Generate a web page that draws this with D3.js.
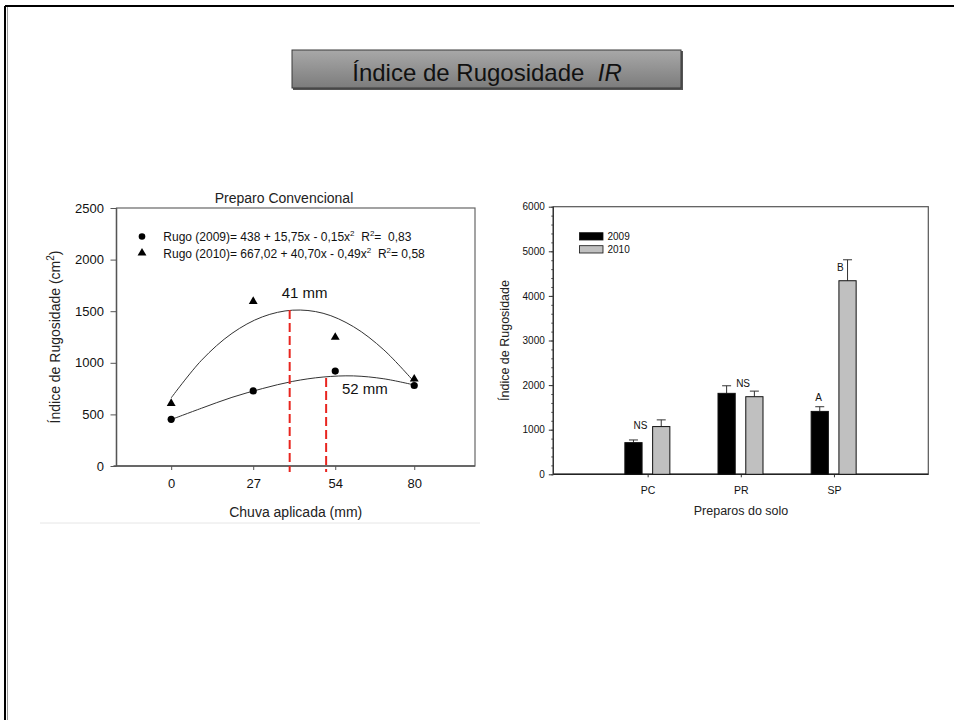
<!DOCTYPE html>
<html><head><meta charset="utf-8">
<script src="https://cdn.jsdelivr.net/npm/d3@7"></script>
<style>
body{margin:0;background:#fff}
svg{display:block;font-family:"Liberation Sans",Arial,sans-serif}
</style>
</head><body><svg id="c" width="954" height="720"></svg>
<script>
// ---------- Data: left chart (Preparo Convencional) ----------
const rainTicks = [0, 27, 54, 80];
const rain = [0, 27, 54, 80];
const rugo2009 = [452, 727, 920, 780];
const rugo2010 = [607, 1595, 1247, 843];
const curveX = [0, 10, 20, 30, 40, 50, 60, 70, 80];
const fit2009 = [450, 560, 665, 750, 820, 862, 873, 845, 785];
const fit2010 = [660, 1025, 1285, 1445, 1510, 1480, 1350, 1125, 815];
const optimaX = [39, 51];
const optimaTop = [1512, 852];
const optimaLabels = ["41 mm", "52 mm"];
const optimaLabelX = [36.4, 56.2];
const optimaLabelY = [1628, 698];
const leftYTicks = [0, 500, 1000, 1500, 2000, 2500];

// ---------- Data: right chart ----------
const preparos = ["PC", "PR", "SP"];
const years = ["2009", "2010"];
const ir2009 = [710, 1815, 1410];
const ir2010 = [1070, 1740, 4340];
const err2009 = [60, 170, 105];
const err2010 = [150, 125, 470];
const rightYTicks = [0, 1000, 2000, 3000, 4000, 5000, 6000];
const letters = ["NS", "NS", "A", "B"];
const letterCat = ["PC", "PR", "SP", "SP"];
const letterLevel = [1015, 1963, 1643, 4556];

const svg = d3.select("#c");
const FONT = '"Liberation Sans", Arial, sans-serif';

// ---------- slide frame ----------
svg.append("line").attr("x1", 5).attr("x2", 954).attr("y1", 6).attr("y2", 6).attr("stroke", "#000").attr("stroke-width", 2);
svg.append("line").attr("x1", 5).attr("x2", 5).attr("y1", 6).attr("y2", 720).attr("stroke", "#000").attr("stroke-width", 2);
svg.append("line").attr("x1", 7.5).attr("x2", 7.5).attr("y1", 7).attr("y2", 720).attr("stroke", "#999").attr("stroke-width", 1);

// ---------- title box ----------
const defs = svg.append("defs");
const g1 = defs.append("linearGradient").attr("id", "tg").attr("x1", 0).attr("x2", 0).attr("y1", 0).attr("y2", 1);
g1.append("stop").attr("offset", "0%").attr("stop-color", "#a8a8a8");
g1.append("stop").attr("offset", "100%").attr("stop-color", "#7c7c7c");
svg.append("rect").attr("x", 293).attr("y", 51).attr("width", 390).attr("height", 39).attr("fill", "#555");
svg.append("rect").attr("x", 292).attr("y", 50).attr("width", 389).attr("height", 38)
  .attr("fill", "url(#tg)").attr("stroke", "#3a3a3a").attr("stroke-width", 1);
const tt = svg.append("text").attr("x", 487).attr("y", 81).attr("text-anchor", "middle")
  .attr("font-size", 24).attr("fill", "#111");
tt.append("tspan").text("Índice de Rugosidade\u00a0\u00a0");
tt.append("tspan").attr("font-style", "italic").text("IR");

// ---------- LEFT CHART ----------
const xL = d3.scaleLinear().domain([-18, 100]).range([116.5, 475]);
const yL = d3.scaleLinear().domain([0, 2500]).range([466, 208]);
const L = svg.append("g");

L.append("line").attr("x1", 40).attr("x2", 480).attr("y1", 523).attr("y2", 523).attr("stroke", "#e6e6e6");

L.append("rect").attr("x", xL(-18)).attr("y", yL(2500)).attr("width", xL(100) - xL(-18)).attr("height", yL(0) - yL(2500))
  .attr("fill", "none").attr("stroke", "#666").attr("stroke-width", 1.2);

const ayL = L.append("g").attr("transform", `translate(${xL(-18)},0)`)
  .call(d3.axisLeft(yL).tickValues(leftYTicks).tickSize(6).tickPadding(6.5).tickFormat(d3.format("d")));
ayL.select(".domain").remove();
ayL.selectAll("line").attr("stroke", "#555");
ayL.selectAll("text").attr("font-size", 13).attr("font-family", FONT).attr("fill", "#111");

const axL = L.append("g").attr("transform", `translate(0,${yL(0)})`)
  .call(d3.axisBottom(xL).tickValues(rainTicks).tickSize(4).tickPadding(12).tickFormat(d3.format("d")));
axL.select(".domain").remove();
axL.selectAll("line").attr("stroke", "#555");
axL.selectAll("text").attr("font-size", 13).attr("font-family", FONT).attr("fill", "#111").attr("dy", 0).attr("y", 22);

L.append("line").attr("x1", xL(-18)).attr("x2", xL(-18)).attr("y1", yL(2500)).attr("y2", yL(0)).attr("stroke", "#555").attr("stroke-width", 1.4);
L.append("line").attr("x1", xL(-18) - 3).attr("x2", xL(100)).attr("y1", yL(0)).attr("y2", yL(0)).attr("stroke", "#555").attr("stroke-width", 1.4);

L.append("text").attr("x", 284).attr("y", 202.5).attr("text-anchor", "middle").attr("font-size", 14).attr("fill", "#222").text("Preparo Convencional");
L.append("text").attr("x", (xL(-18) + xL(100)) / 2).attr("y", 517).attr("text-anchor", "middle").attr("font-size", 14).attr("fill", "#222").text("Chuva aplicada (mm)");
const ylt = L.append("text").attr("transform", `translate(60,${(yL(0) + yL(2500)) / 2}) rotate(-90)`)
  .attr("text-anchor", "middle").attr("font-size", 14).attr("fill", "#222");
ylt.append("tspan").text("Índice de Rugosidade (cm");
ylt.append("tspan").attr("font-size", 10).attr("dy", -6).text("2");
ylt.append("tspan").attr("dy", 6).text(")");

// fitted curves
const lineL = d3.line().x(d => xL(d[0])).y(d => yL(d[1])).curve(d3.curveCatmullRom.alpha(0.5));
[fit2009, fit2010].forEach(arr => {
  L.append("path").attr("d", lineL(curveX.map((x, i) => [x, arr[i]])))
    .attr("fill", "none").attr("stroke", "#333").attr("stroke-width", 1);
});

// dashed optimum lines
optimaX.forEach((x, i) => {
  L.append("line").attr("x1", xL(x)).attr("x2", xL(x)).attr("y1", yL(optimaTop[i])).attr("y2", yL(0) + 6)
    .attr("stroke", "#e8251f").attr("stroke-width", 2).attr("stroke-dasharray", "9,4");
  L.append("text").attr("x", xL(optimaLabelX[i])).attr("y", yL(optimaLabelY[i])).attr("font-size", 15)
    .attr("fill", "#111").text(optimaLabels[i]);
});

// points
const tri = d3.symbol().type(d3.symbolTriangle).size(34);
rain.forEach((x, i) => {
  L.append("circle").attr("cx", xL(x)).attr("cy", yL(rugo2009[i])).attr("r", 3.6).attr("fill", "#000");
  L.append("path").attr("d", tri).attr("transform", `translate(${xL(x)},${yL(rugo2010[i])})`).attr("fill", "#000");
});

// legend / equations
L.append("circle").attr("cx", 142).attr("cy", 236.5).attr("r", 3.3).attr("fill", "#000");
L.append("path").attr("d", tri).attr("transform", "translate(142,253)").attr("fill", "#000");
function eq(y, parts) {
  const t = L.append("text").attr("x", 163.3).attr("y", y).attr("font-size", 12).attr("fill", "#111");
  let raised = false;
  parts.forEach(p => {
    const s = t.append("tspan").text(p.t);
    if (p.sup) { s.attr("font-size", 8).attr("dy", -5); raised = true; }
    else if (raised) { s.attr("dy", 5); raised = false; }
  });
}
eq(241, [{t: "Rugo (2009)= 438 + 15,75x - 0,15x"}, {t: "2", sup: 1}, {t: "\u00a0\u00a0R"}, {t: "2", sup: 1}, {t: "=\u00a0\u00a00,83"}]);
eq(258, [{t: "Rugo (2010)= 667,02 + 40,70x - 0,49x"}, {t: "2", sup: 1}, {t: "\u00a0\u00a0R"}, {t: "2", sup: 1}, {t: "= 0,58"}]);

// ---------- RIGHT CHART ----------
const xR = d3.scalePoint().domain(preparos).range([553.3, 928.3]).padding(1.013);
const yR = d3.scaleLinear().domain([0, 6000]).range([474.3, 206.7]);
const sub = d3.scaleBand().domain(years).range([-22.8, 22.2]).paddingInner(0.38);
const R = svg.append("g");

const minor = d3.range(0, 6001, 200);
const amR = R.append("g").attr("transform", `translate(553.3,0)`)
  .call(d3.axisLeft(yR).tickValues(minor).tickSize(2).tickFormat(""));
amR.select(".domain").remove();
amR.selectAll("line").attr("stroke", "#444");
const ayR = R.append("g").attr("transform", `translate(553.3,0)`)
  .call(d3.axisLeft(yR).tickValues(rightYTicks).tickSize(4.5).tickPadding(4).tickFormat(d3.format("d")));
ayR.select(".domain").remove();
ayR.selectAll("line").attr("stroke", "#333");
ayR.selectAll("text").attr("font-size", 10).attr("font-family", FONT).attr("fill", "#111");

const axR = R.append("g").attr("transform", `translate(0,${yR(0)})`)
  .call(d3.axisBottom(xR).tickSize(3).tickPadding(9));
axR.select(".domain").remove();
axR.selectAll("line").attr("stroke", "#333");
axR.selectAll("text").attr("font-size", 10.5).attr("font-family", FONT).attr("fill", "#111").attr("dy", 0).attr("y", 19.5);

R.append("rect").attr("x", 553.3).attr("y", yR(6000)).attr("width", 375).attr("height", yR(0) - yR(6000))
  .attr("fill", "none").attr("stroke", "#555").attr("stroke-width", 1.2);
R.append("line").attr("x1", 553.3).attr("x2", 928.3).attr("y1", yR(0)).attr("y2", yR(0)).attr("stroke", "#222").attr("stroke-width", 1.5);
R.append("line").attr("x1", 553.3).attr("x2", 553.3).attr("y1", yR(0)).attr("y2", yR(6000)).attr("stroke", "#333").attr("stroke-width", 1.3);

const series = [
  {year: "2009", vals: ir2009, errs: err2009, fill: "#000"},
  {year: "2010", vals: ir2010, errs: err2010, fill: "#c0c0c0"}
];
series.forEach(s => {
  preparos.forEach((p, i) => {
    const x0 = xR(p) + sub(s.year);
    const cx = x0 + sub.bandwidth() / 2;
    R.append("line").attr("x1", cx).attr("x2", cx).attr("y1", yR(s.vals[i])).attr("y2", yR(s.vals[i] + s.errs[i]))
      .attr("stroke", "#333").attr("stroke-width", 1);
    R.append("line").attr("x1", cx - 4.5).attr("x2", cx + 4.5).attr("y1", yR(s.vals[i] + s.errs[i])).attr("y2", yR(s.vals[i] + s.errs[i]))
      .attr("stroke", "#333").attr("stroke-width", 1);
    R.append("rect").attr("x", x0).attr("y", yR(s.vals[i])).attr("width", sub.bandwidth()).attr("height", yR(0) - yR(s.vals[i]))
      .attr("fill", s.fill).attr("stroke", "#111").attr("stroke-width", 1);
  });
});

const letterShift = [-7.2, 2.3, -15.3, 6.3];
letters.forEach((l, i) => {
  R.append("text").attr("x", xR(letterCat[i]) + letterShift[i]).attr("y", yR(letterLevel[i]))
    .attr("text-anchor", "middle").attr("font-size", 10).attr("fill", "#111").text(l);
});

series.forEach((s, i) => {
  R.append("rect").attr("x", 579.5).attr("y", 232.7 + i * 13).attr("width", 23.5).attr("height", 7.3)
    .attr("fill", s.fill).attr("stroke", "#111").attr("stroke-width", 0.8);
  R.append("text").attr("x", 607.5).attr("y", 240.3 + i * 13).attr("font-size", 10).attr("fill", "#111").text(s.year);
});

R.append("text").attr("x", 741).attr("y", 515).attr("text-anchor", "middle").attr("font-size", 12.5).attr("fill", "#222").text("Preparos do solo");
R.append("text").attr("transform", `translate(509,${(yR(0) + yR(6000)) / 2}) rotate(-90)`)
  .attr("text-anchor", "middle").attr("font-size", 12.5).attr("fill", "#222").text("Índice de Rugosidade");
</script>
</body></html>
